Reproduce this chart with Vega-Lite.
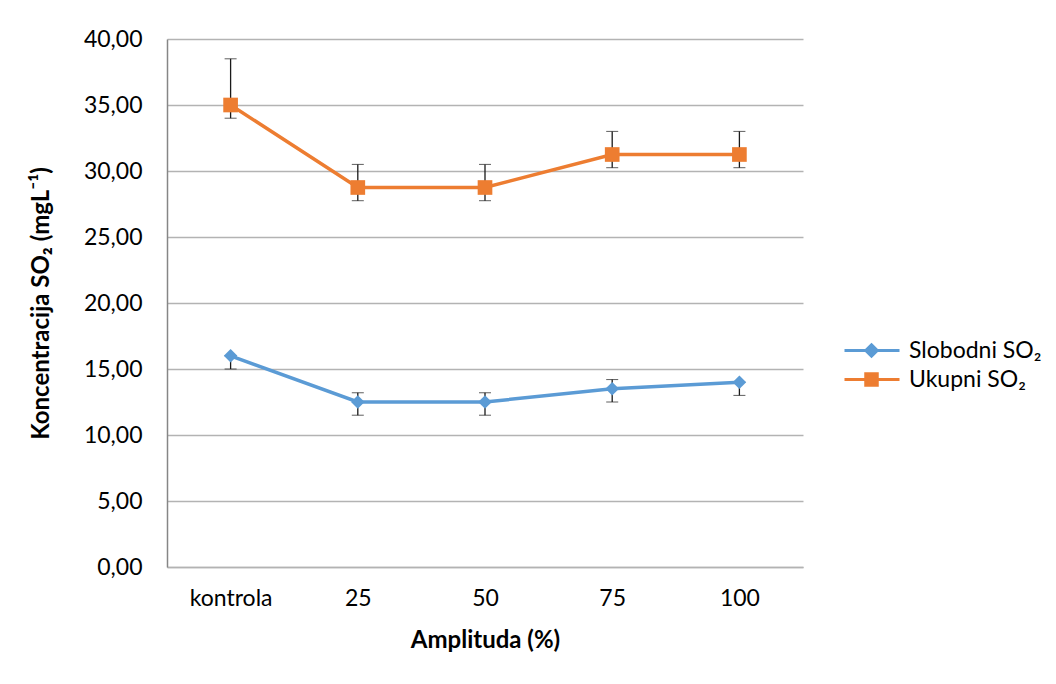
{
  "$schema": "https://vega.github.io/schema/vega-lite/v6.json",
  "autosize": {"type": "none"},
  "padding": {"left": 167, "top": 39, "right": 253, "bottom": 117},
  "width": 636,
  "height": 528,
  "background": "white",
  "data": {
    "values": [
      {"cat": "kontrola", "series": "Slobodni SO₂", "value": 16.0, "lower": 15.0, "upper": 16.0},
      {"cat": "25", "series": "Slobodni SO₂", "value": 12.5, "lower": 11.5, "upper": 13.2},
      {"cat": "50", "series": "Slobodni SO₂", "value": 12.5, "lower": 11.5, "upper": 13.2},
      {"cat": "75", "series": "Slobodni SO₂", "value": 13.5, "lower": 12.5, "upper": 14.2},
      {"cat": "100", "series": "Slobodni SO₂", "value": 14.0, "lower": 13.0, "upper": 14.0},
      {"cat": "kontrola", "series": "Ukupni SO₂", "value": 35.0, "lower": 34.0, "upper": 38.5},
      {"cat": "25", "series": "Ukupni SO₂", "value": 28.75, "lower": 27.75, "upper": 30.5},
      {"cat": "50", "series": "Ukupni SO₂", "value": 28.75, "lower": 27.75, "upper": 30.5},
      {"cat": "75", "series": "Ukupni SO₂", "value": 31.25, "lower": 30.25, "upper": 33.0},
      {"cat": "100", "series": "Ukupni SO₂", "value": 31.25, "lower": 30.25, "upper": 33.0}
    ]
  },
  "encoding": {
    "x": {
      "field": "cat",
      "type": "ordinal",
      "sort": ["kontrola", "25", "50", "75", "100"],
      "scale": {"type": "point", "padding": 0.5},
      "axis": {
        "title": "Amplituda (%)",
        "labelAngle": 0,
        "labelPadding": 20,
        "titlePadding": 18,
        "ticks": false,
        "domainColor": "#b3b3b3",
        "domainWidth": 1.5,
        "grid": false
      }
    }
  },
  "layer": [
    {
      "mark": {"type": "errorbar", "ticks": {"size": 12, "color": "#1a1a1a", "strokeWidth": 1.3}, "rule": {"color": "#1a1a1a", "strokeWidth": 1.3}},
      "encoding": {
        "y": {"field": "lower", "type": "quantitative", "scale": {"domain": [0, 40]}, "title": "Koncentracija SO₂ (mgL⁻¹)"},
        "y2": {"field": "upper"}
      }
    },
    {
      "mark": {"type": "line", "strokeWidth": 3.5},
      "encoding": {
        "y": {
          "field": "value",
          "type": "quantitative",
          "scale": {"domain": [0, 40]},
          "title": "Koncentracija SO₂ (mgL⁻¹)",
          "axis": {
            "values": [0, 5, 10, 15, 20, 25, 30, 35, 40],
            "format": ".2f",
            "ticks": false,
            "labelPadding": 25,
            "titlePadding": 30,
            "domainColor": "#868686",
            "domainWidth": 1.5,
            "gridColor": "#b3b3b3",
            "gridWidth": 1.3
          }
        },
        "color": {
          "field": "series",
          "type": "nominal",
          "scale": {"domain": ["Slobodni SO₂", "Ukupni SO₂"], "range": ["#5B9BD5", "#ED7D31"]},
          "legend": {
            "title": null,
            "orient": "none",
            "legendX": 716,
            "legendY": 300,
            "padding": 0,
            "symbolSize": 100,
            "labelOffset": 3,
            "rowPadding": 4,
            "labelFontSize": 23,
            "labelFont": "Lato",
            "labelColor": "#000000",
            "encode": {
              "symbols": {
                "update": {
                  "shape": {"signal": "datum.value === 'Slobodni SO₂' ? 'M-10,0L1,0M-4.6,-1.15L-3.45,0L-4.6,1.15L-5.75,0Z' : 'M-10,0L1,0M-5.75,-1.15L-3.45,-1.15L-3.45,1.15L-5.75,1.15Z'"},
                  "stroke": {"scale": "color", "field": "value"},
                  "fill": {"scale": "color", "field": "value"},
                  "strokeWidth": {"value": 3},
                  "fillOpacity": {"value": 1}
                }
              }
            }
          }
        }
      }
    },
    {
      "transform": [{"filter": "datum.series === 'Slobodni SO₂'"}],
      "mark": {"type": "point", "shape": "diamond", "filled": true, "size": 185, "opacity": 1},
      "encoding": {
        "y": {"field": "value", "type": "quantitative"},
        "color": {"field": "series", "type": "nominal"}
      }
    },
    {
      "transform": [{"filter": "datum.series === 'Ukupni SO₂'"}],
      "mark": {"type": "point", "shape": "square", "filled": true, "size": 215, "opacity": 1},
      "encoding": {
        "y": {"field": "value", "type": "quantitative"},
        "color": {"field": "series", "type": "nominal"}
      }
    }
  ],
  "config": {
    "locale": {"number": {"decimal": ",", "thousands": ".", "grouping": [3], "currency": ["", " €"]}},
    "font": "Lato",
    "view": {"stroke": null},
    "axis": {
      "labelFont": "Lato",
      "labelFontSize": 23,
      "labelColor": "#000000",
      "titleFont": "Lato",
      "titleFontSize": 24,
      "titleFontWeight": "bold",
      "titleColor": "#000000"
    }
  }
}
